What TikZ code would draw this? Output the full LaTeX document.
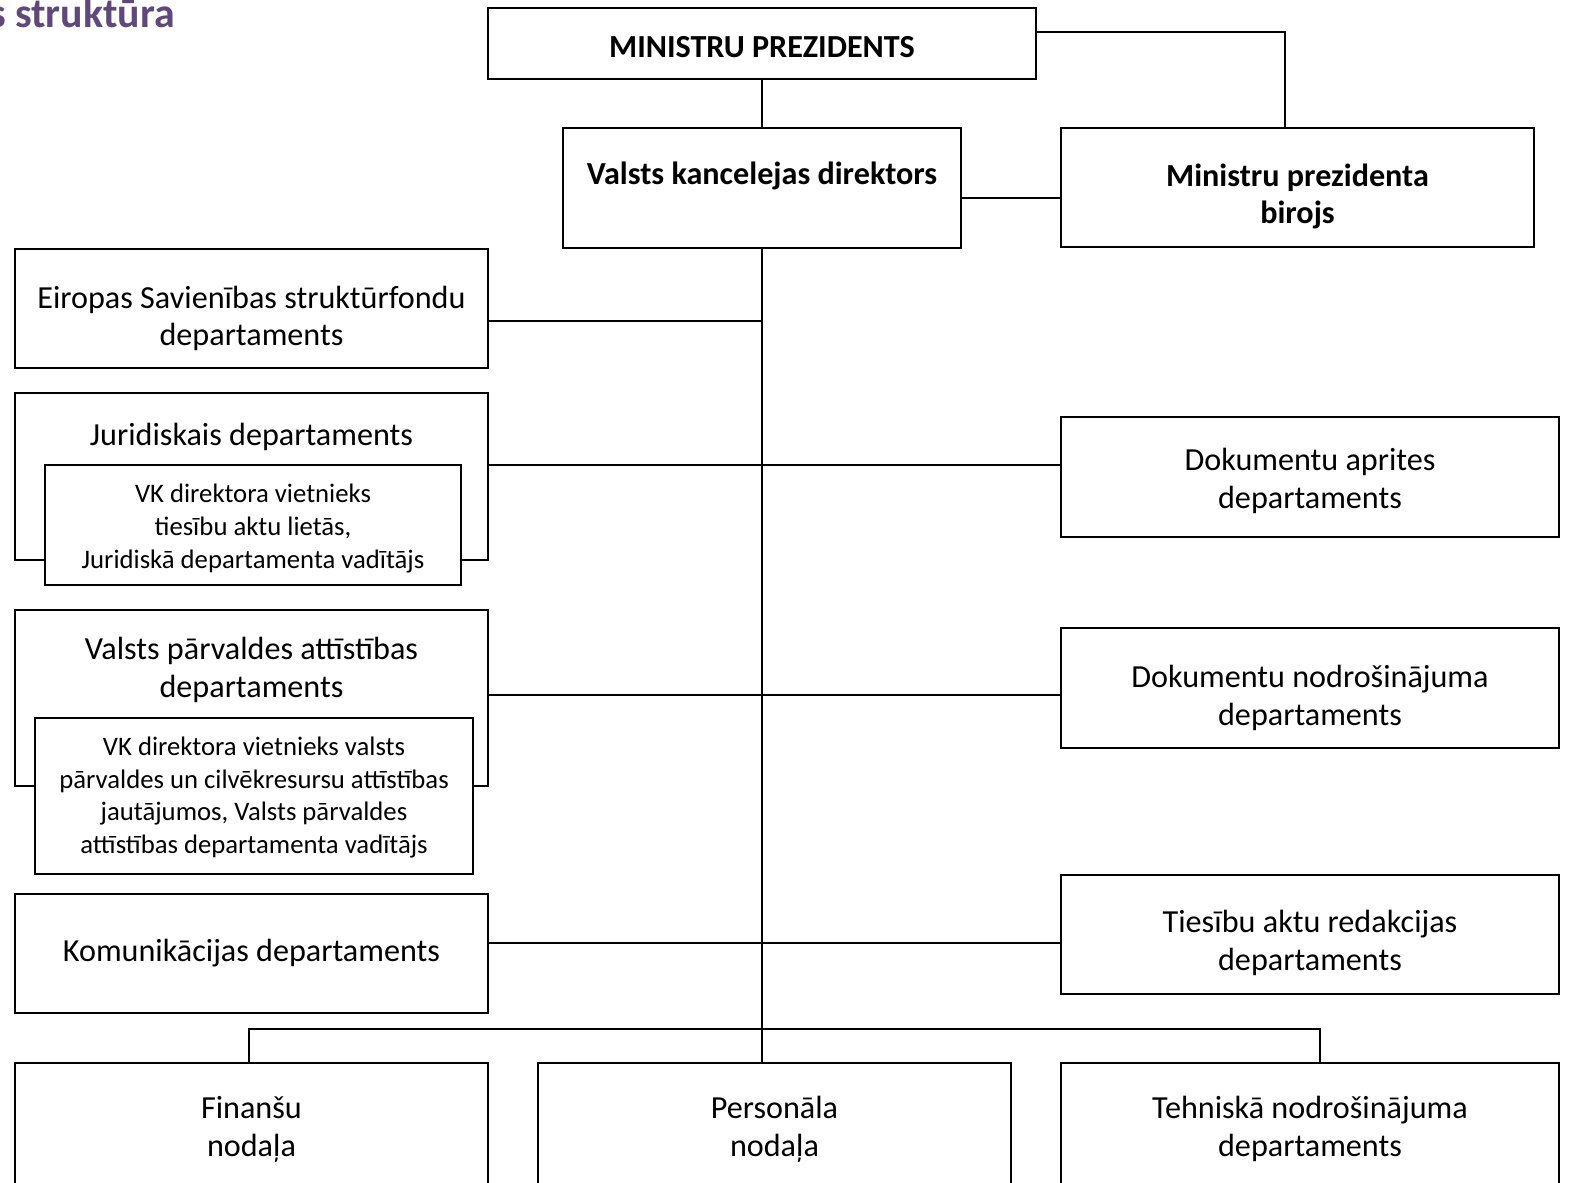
\documentclass[tikz,border=0pt]{standalone}
\usepackage{fontspec}
\setmainfont{Carlito}
\usetikzlibrary{positioning}
\definecolor{titlepurple}{RGB}{95,73,122}

\begin{document}
\begin{tikzpicture}
[x=0.02cm,y=-0.02cm,
box/.style={rectangle,draw=black,line width=1pt,fill=white,inner sep=0pt},
txt/.style={inner sep=0pt,align=center,font=\fontsize{18.3}{21.5}\selectfont},
btxt/.style={txt,font=\fontsize{18.3}{21.5}\selectfont\bfseries},
stxt/.style={inner sep=0pt,align=center,font=\fontsize{15.2}{18.7}\selectfont},
link/.style={line width=0.8pt}]
\useasboundingbox (0,0) rectangle (1570,1183);

\node[anchor=base east,inner sep=0pt,text=titlepurple,font=\fontsize{23.8}{28}\selectfont\bfseries] (title) at (175,28) {s struktūra};

\node[box,minimum width=10.96cm,minimum height=1.42cm] (mp) at (762,43.5) {};
\node[btxt] (mpt) at (762,47.5) {MINISTRU PREZIDENTS};
\node[box,minimum width=7.96cm,minimum height=2.4cm] (vkd) at (762,188) {};
\node[btxt] (vkdt) at (762,176) {Valsts kancelejas direktors};
\node[box,minimum width=9.46cm,minimum height=2.38cm] (birojs) at (1297.5,187.5) {};
\node[btxt] (birojst) at (1297.5,196.5) {Ministru prezidenta\\birojs};

\node[box,minimum width=9.46cm,minimum height=2.38cm] (esf) at (251.5,308.5) {};
\node[txt] (esft) at (251.5,318.5) {Eiropas Savienības struktūrfondu\\departaments};
\node[box,minimum width=9.46cm,minimum height=3.34cm] (jur) at (251.5,476.5) {};
\node[txt] (jurt) at (251.5,437) {Juridiskais departaments};
\node[box,minimum width=8.32cm,minimum height=2.4cm] (jurv) at (253,525) {};
\node[stxt] (jurvt) at (253,528.5) {VK direktora vietnieks\\tiesību aktu lietās,\\Juridiskā departamenta vadītājs};
\node[box,minimum width=9.46cm,minimum height=3.52cm] (vpa) at (251.5,698) {};
\node[txt] (vpat) at (251.5,670) {Valsts pārvaldes attīstības\\departaments};
\node[box,minimum width=8.76cm,minimum height=3.12cm] (vpav) at (254,796) {};
\node[stxt] (vpavt) at (254,797.5) {VK direktora vietnieks valsts\\pārvaldes un cilvēkresursu attīstības\\jautājumos, Valsts pārvaldes\\attīstības departamenta vadītājs};
\node[box,minimum width=9.46cm,minimum height=2.38cm] (kom) at (251.5,953.5) {};
\node[txt] (komt) at (251.5,953.5) {Komunikācijas departaments};

\node[box,minimum width=9.96cm,minimum height=2.4cm] (dap) at (1310,477) {};
\node[txt] (dapt) at (1310,481) {Dokumentu aprites\\departaments};
\node[box,minimum width=9.96cm,minimum height=2.4cm] (dnd) at (1310,688) {};
\node[txt] (dndt) at (1310,698) {Dokumentu nodrošinājuma\\departaments};
\node[box,minimum width=9.96cm,minimum height=2.38cm] (tar) at (1310,934.5) {};
\node[txt] (tart) at (1310,943) {Tiesību aktu redakcijas\\departaments};

\node[box,minimum width=9.46cm,minimum height=2.5cm] (fin) at (251.5,1125.5) {};
\node[txt] (fint) at (251.5,1129) {Finanšu\\nodaļa};
\node[box,minimum width=9.46cm,minimum height=2.5cm] (pers) at (774.5,1125.5) {};
\node[txt] (perst) at (774.5,1129) {Personāla\\nodaļa};
\node[box,minimum width=9.96cm,minimum height=2.5cm] (tnd) at (1310,1125.5) {};
\node[txt] (tndt) at (1310,1129) {Tehniskā nodrošinājuma\\departaments};

\draw[link] (mp) -- (vkd);
\draw[link] (mp.east |- 0,32) -| (1285,0 |- birojs.north);
\draw[link] (vkd.east |- 0,198) -- (birojs.west |- 0,198);
\draw[link] (vkd.south) -- (vkd.south |- pers.north);
\draw[link] (esf.east |- 0,321) -- (vkd.south |- 0,321);
\draw[link] (jur.east |- 0,465) -- (dap.west |- 0,465);
\draw[link] (vpa.east |- 0,695) -- (dnd.west |- 0,695);
\draw[link] (kom.east |- 0,943) -- (tar.west |- 0,943);
\draw[link] (249,0 |- fin.north) |- (1320,1029) -- (1320,0 |- tnd.north);
\end{tikzpicture}
\end{document}
